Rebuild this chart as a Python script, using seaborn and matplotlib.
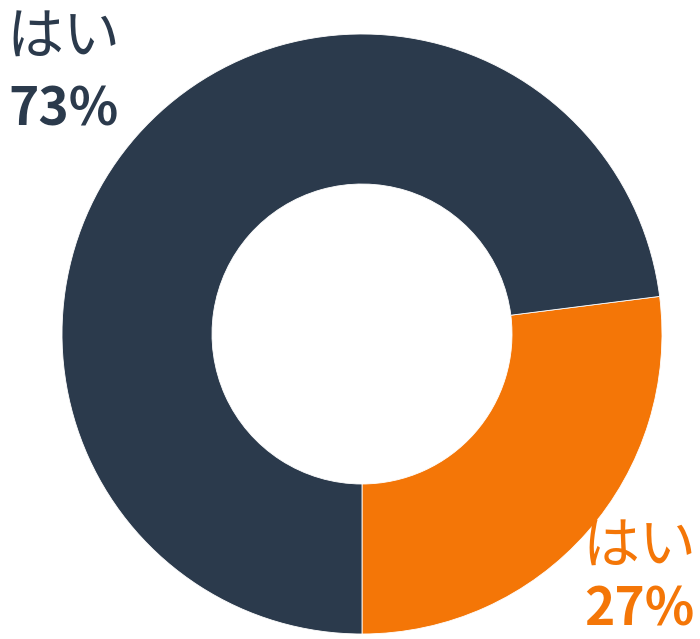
import matplotlib
matplotlib.use("Agg")
import matplotlib.pyplot as plt
import seaborn as sns

labels = ["はい", "はい"]
values = [27, 73]
pct_labels = ["27%", "73%"]
colors = ["#f47607", "#2b3a4c"]

sns.set_style("white")
plt.rcParams['font.family'] = ['Noto Sans CJK JP', 'DejaVu Sans']

W, H = 700, 639
fig = plt.figure(figsize=(W/100, H/100), dpi=100)
cx, cy, r = 362, 334, 300
ax = fig.add_axes([(cx - r)/W, (H - cy - r)/H, 2*r/W, 2*r/H])
ax.pie(values, colors=colors, startangle=-90, counterclock=True, radius=1,
       wedgeprops=dict(width=0.5, edgecolor="white", linewidth=0.6))
ax.set_xlim(-1, 1)
ax.set_ylim(-1, 1)
ax.set_aspect("equal")
ax.axis("off")

fs_l = 41
fs_p = 37
# top-left label (dark)
fig.text(6/W, 1 - 9/H, labels[1], color=colors[1], fontsize=fs_l, va="top", ha="left")
fig.text(8/W, 1 - 83/H, pct_labels[1], color=colors[1], fontsize=fs_p, fontweight="bold", va="top", ha="left")
# bottom-right label (orange)
fig.text(696/W, 1 - 518/H, labels[0], color=colors[0], fontsize=fs_l, va="top", ha="right")
fig.text(694/W, 1 - 584/H, pct_labels[0], color=colors[0], fontsize=fs_p, fontweight="bold", va="top", ha="right")

fig.savefig("out.png", dpi=100, facecolor="white")
